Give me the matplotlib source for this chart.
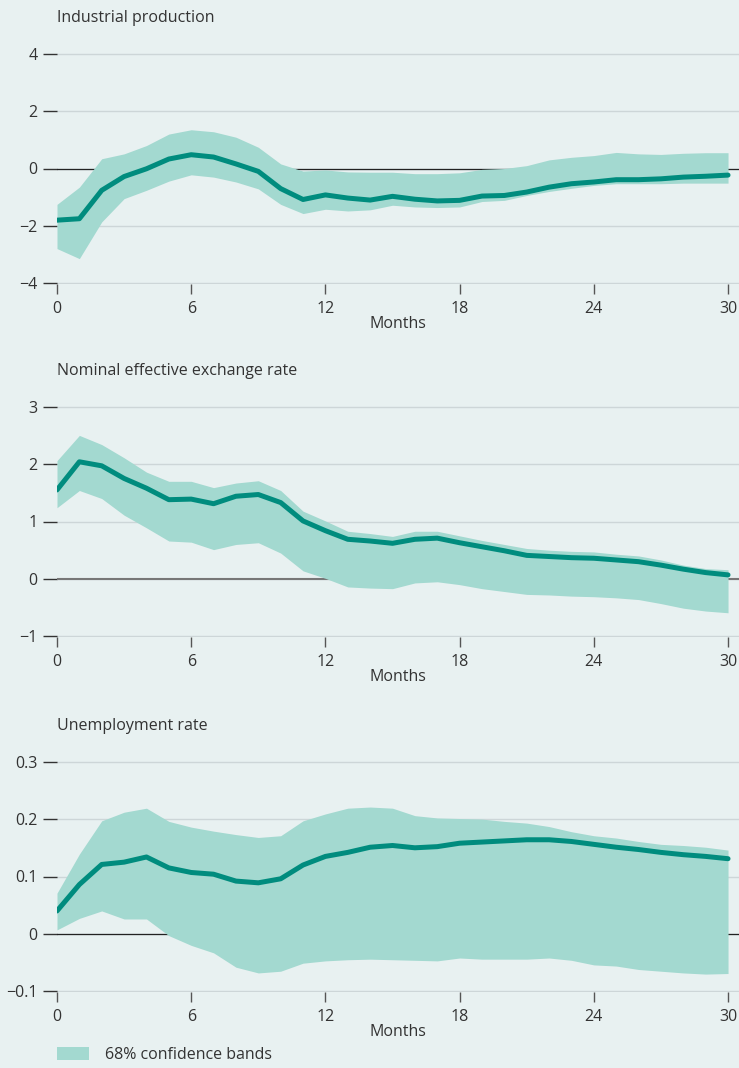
import matplotlib
matplotlib.use("Agg")
import matplotlib.pyplot as plt
from matplotlib.patches import Patch

months = list(range(31))

# Industrial production
ip_mid = [-1.80, -1.75, -0.76, -0.28, -0.01, 0.33, 0.48, 0.40, 0.16, -0.10, -0.70, -1.08, -0.92, -1.03, -1.10,
          -0.97, -1.07, -1.13, -1.11, -0.96, -0.94, -0.82, -0.65, -0.53, -0.47, -0.39, -0.39, -0.36, -0.30, -0.27, -0.23]
ip_hi = [-1.25, -0.65, 0.34, 0.51, 0.80, 1.20, 1.35, 1.28, 1.09, 0.74, 0.16, -0.09, -0.05, -0.12, -0.13,
         -0.13, -0.18, -0.18, -0.15, -0.03, 0.00, 0.10, 0.30, 0.39, 0.45, 0.56, 0.51, 0.49, 0.53, 0.55, 0.55]
ip_lo = [-2.79, -3.14, -1.86, -1.05, -0.76, -0.44, -0.22, -0.30, -0.47, -0.71, -1.25, -1.57, -1.42, -1.48, -1.44,
         -1.28, -1.34, -1.36, -1.34, -1.15, -1.11, -0.94, -0.80, -0.69, -0.59, -0.53, -0.53, -0.53, -0.51, -0.51, -0.51]

# Nominal effective exchange rate
ner_mid = [1.55, 2.04, 1.97, 1.75, 1.58, 1.38, 1.39, 1.31, 1.44, 1.47, 1.33, 1.01, 0.84, 0.69, 0.66,
           0.62, 0.69, 0.71, 0.63, 0.56, 0.49, 0.41, 0.39, 0.37, 0.36, 0.33, 0.30, 0.24, 0.17, 0.11, 0.07]
ner_hi = [2.06, 2.50, 2.34, 2.11, 1.86, 1.70, 1.70, 1.59, 1.67, 1.71, 1.54, 1.18, 1.01, 0.83, 0.79,
          0.74, 0.83, 0.83, 0.75, 0.67, 0.60, 0.53, 0.50, 0.48, 0.47, 0.43, 0.40, 0.33, 0.24, 0.18, 0.16]
ner_lo = [1.24, 1.54, 1.40, 1.11, 0.89, 0.66, 0.64, 0.51, 0.60, 0.63, 0.45, 0.14, 0.01, -0.14, -0.16,
          -0.17, -0.07, -0.05, -0.10, -0.17, -0.22, -0.27, -0.28, -0.30, -0.31, -0.33, -0.36, -0.43, -0.51, -0.56, -0.59]

# Unemployment rate
ur_mid = [0.040, 0.086, 0.121, 0.125, 0.134, 0.115, 0.107, 0.104, 0.092, 0.089, 0.096, 0.120, 0.135, 0.142, 0.151,
          0.154, 0.150, 0.152, 0.158, 0.160, 0.162, 0.164, 0.164, 0.161, 0.156, 0.151, 0.147, 0.142, 0.138, 0.135, 0.131]
ur_hi = [0.071, 0.139, 0.197, 0.212, 0.219, 0.196, 0.186, 0.179, 0.173, 0.168, 0.171, 0.197, 0.209, 0.219, 0.221,
         0.219, 0.206, 0.202, 0.201, 0.200, 0.196, 0.193, 0.187, 0.178, 0.171, 0.167, 0.161, 0.156, 0.154, 0.151, 0.146]
ur_lo = [0.007, 0.027, 0.040, 0.026, 0.026, -0.003, -0.020, -0.033, -0.058, -0.068, -0.065, -0.051, -0.047, -0.045, -0.044,
         -0.045, -0.046, -0.047, -0.042, -0.044, -0.044, -0.044, -0.042, -0.046, -0.054, -0.056, -0.062, -0.065, -0.068, -0.070, -0.069]

titles = ["Industrial production", "Nominal effective exchange rate", "Unemployment rate"]
yticks = [[-4, -2, 0, 2, 4], [-1, 0, 1, 2, 3], [-0.1, 0, 0.1, 0.2, 0.3]]
ytick_labels = [["\u22124", "\u22122", "0", "2", "4"],
                ["\u22121", "0", "1", "2", "3"],
                ["\u22120.1", "0", "0.1", "0.2", "0.3"]]
xticks = [0, 6, 12, 18, 24, 30]
legend_label = "68% confidence bands"

bg = "#e8f1f1"
line_c = "#008c7e"
band_c = "#a3d9d0"
grid_c = "#cdd6d8"
text_c = "#333333"

plt.rcParams["font.family"] = ["Open Sans", "DejaVu Sans"]
fs = 11.5

fig = plt.figure(figsize=(7.39, 10.68), dpi=100, facecolor=bg)

panels = [(ip_mid, ip_lo, ip_hi), (ner_mid, ner_lo, ner_hi), (ur_mid, ur_lo, ur_hi)]
tops_px = [53, 406, 761]
bottoms_px = [284, 637, 992]
zero_style = [("#222222", 0.9), ("#777777", 1.5), ("#222222", 0.9)]

for i, (mid, lo, hi) in enumerate(panels):
    top = 1 - tops_px[i] / 1068
    bottom = 1 - bottoms_px[i] / 1068
    ax = fig.add_axes([57 / 739, bottom, 1 - 57 / 739, top - bottom])
    ax.set_facecolor(bg)
    for s in ax.spines.values():
        s.set_visible(False)

    yt = yticks[i]
    span = yt[-1] - yt[0]
    ax.set_ylim(yt[0] - span * 0.003, yt[-1] + span * 0.003)
    ax.set_xlim(0, 30.49)

    ax.set_yticks(yt)
    ax.set_yticklabels(ytick_labels[i])
    ax.set_xticks(xticks)
    ax.yaxis.grid(True, color=grid_c, lw=1.0, zorder=0)
    ax.set_axisbelow(True)
    zc, zw = zero_style[i]
    ax.axhline(0, color=zc, lw=zw, zorder=1)

    ax.tick_params(axis="y", direction="out", length=10, width=1, color=text_c,
                   labelcolor=text_c, pad=4, labelsize=fs)
    ax.tick_params(axis="x", direction="out", length=7.5, width=1, color="#555555",
                   labelcolor=text_c, pad=5, labelsize=fs)

    ax.fill_between(months, lo, hi, color=band_c, lw=0, zorder=2)
    ax.plot(months, mid, color=line_c, lw=3.6, solid_capstyle="round",
            solid_joinstyle="round", zorder=3)

    ax.set_title(titles[i], loc="left", pad=22, color=text_c, fontsize=fs)
    ax.set_xlabel("Months", color=text_c, fontsize=fs, labelpad=-1)

fig.legend(handles=[Patch(facecolor=band_c, edgecolor="none")], labels=[legend_label],
           loc="center left", bbox_to_anchor=(57 / 739, 1 - 1055 / 1068),
           frameon=False, borderpad=0, borderaxespad=0, handlelength=2.0,
           handleheight=0.9, handletextpad=1.0, fontsize=fs, labelcolor=text_c)

fig.savefig("out.png", dpi=100, facecolor=bg)
